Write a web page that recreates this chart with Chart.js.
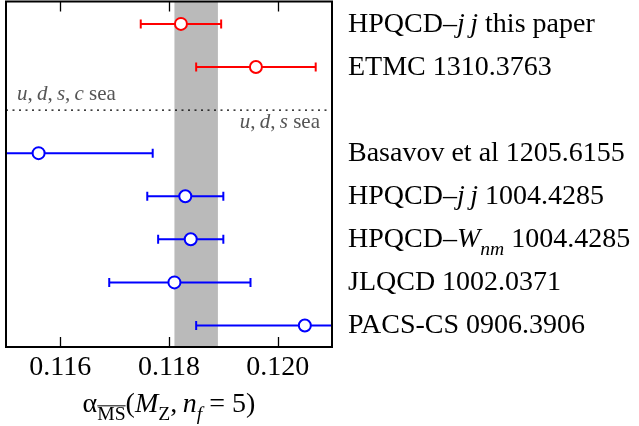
<!DOCTYPE html>
<html>
<head>
<meta charset="utf-8">
<script src="https://cdn.jsdelivr.net/npm/chart.js@4.4.1/dist/chart.umd.min.js"></script>
<style>
  html, body { margin: 0; padding: 0; background: #fff; }
  canvas { display: block; }
</style>
</head>
<body>
<canvas id="alphaChart" width="639" height="426"></canvas>
<script>
// results, top to bottom; *x* = italic, _{..} = subscript
var names = [
  'HPQCD\u2013*j\u2009j* this paper',
  'ETMC 1310.3763',
  'Basavov et al 1205.6155',
  'HPQCD\u2013*j\u2009j* 1004.4285',
  'HPQCD\u2013*W*_{*nm*} 1004.4285',
  'JLQCD 1002.0371',
  'PACS-CS 0906.3906'
];
var rows = [0, 1, 3, 4, 5, 6, 7];
var alphaS = [0.11822, 0.1196, 0.1156, 0.1183, 0.1184, 0.1181, 0.1205];
var errMinus = [0.00074, 0.0011, 0.0021, 0.0007, 0.0006, 0.0012, 0.0020];
var errPlus = [0.00074, 0.0011, 0.0021, 0.0007, 0.0006, 0.0014, 0.0010];
var nf4 = [true, true, false, false, false, false, false]; // u,d,s,c sea
var worldAvg = [0.1181, 0.1189];
var tickVals = [0.116, 0.118, 0.120];
var sepRow = 2;

var SERIF = '"Liberation Serif", "Times New Roman", serif';
var RED = '#ff0000';
var BLUE = '#0000ff';

function parseRich(s) {
  var re = /_\{([*~]?)([^}*]+)\*?\}|\*([^*]+)\*|([^*_]+)/g;
  var out = [];
  var m;
  while ((m = re.exec(s)) !== null) {
    if (m[2] !== undefined) out.push({ t: m[2], it: m[1] === '*', over: m[1] === '~', sub: true });
    else if (m[3] !== undefined) out.push({ t: m[3], it: true });
    else out.push({ t: m[4] });
  }
  return out;
}

function drawRich(ctx, s, x, y, size, align, color) {
  var segs = parseRich(s);
  var total = 0;
  segs.forEach(function (g) {
    g.font = (g.it ? 'italic ' : '') + (g.sub ? size * 0.7 : size) + 'px ' + SERIF;
    ctx.font = g.font;
    g.w = ctx.measureText(g.t).width;
    total += g.w;
  });
  var cx = align === 'center' ? x - total / 2 : align === 'right' ? x - total : x;
  ctx.save();
  ctx.fillStyle = color;
  ctx.textBaseline = 'alphabetic';
  ctx.textAlign = 'left';
  segs.forEach(function (g) {
    ctx.font = g.font;
    var dy = g.sub ? size * 0.28 : 0;
    ctx.fillText(g.t, cx, y + dy);
    if (g.over) {
      ctx.strokeStyle = color;
      ctx.lineWidth = 1;
      ctx.beginPath();
      ctx.moveTo(cx, y + dy - size * 0.5);
      ctx.lineTo(cx + g.w, y + dy - size * 0.5);
      ctx.stroke();
    }
    cx += g.w;
  });
  ctx.restore();
}

var decor = {
  id: 'decor',
  beforeDatasetsDraw: function (chart) {
    var ctx = chart.ctx, a = chart.chartArea;
    var xs = chart.scales.x, ys = chart.scales.y;
    ctx.save();
    ctx.beginPath();
    ctx.rect(a.left, a.top, a.right - a.left, a.bottom - a.top);
    ctx.clip();

    // world average band
    var b0 = xs.getPixelForValue(worldAvg[0]);
    var b1 = xs.getPixelForValue(worldAvg[1]);
    ctx.fillStyle = '#bababa';
    ctx.fillRect(b0, a.top, b1 - b0, a.bottom - a.top);

    // error bars with caps
    ctx.lineWidth = 2;
    alphaS.forEach(function (v, i) {
      var y = ys.getPixelForValue(rows[i]);
      var lo = xs.getPixelForValue(v - errMinus[i]);
      var hi = xs.getPixelForValue(v + errPlus[i]);
      ctx.strokeStyle = nf4[i] ? RED : BLUE;
      ctx.beginPath();
      ctx.moveTo(lo, y); ctx.lineTo(hi, y);
      ctx.moveTo(lo, y - 4.5); ctx.lineTo(lo, y + 4.5);
      ctx.moveTo(hi, y - 4.5); ctx.lineTo(hi, y + 4.5);
      ctx.stroke();
    });

    // sea content separator
    var sy = ys.getPixelForValue(sepRow);
    ctx.strokeStyle = '#000';
    ctx.lineWidth = 1.2;
    ctx.setLineDash([2, 4.5]);
    ctx.beginPath();
    ctx.moveTo(a.left, sy); ctx.lineTo(a.right, sy);
    ctx.stroke();
    ctx.setLineDash([]);
    ctx.restore();

    drawRich(ctx, '*u*,\u2009*d*,\u2009*s*,\u2009*c* sea', a.left + 11, sy - 10, 21, 'left', '#555555');
    drawRich(ctx, '*u*,\u2009*d*,\u2009*s* sea', a.right - 12, sy + 18, 21, 'right', '#555555');
  },
  afterDraw: function (chart) {
    var ctx = chart.ctx, a = chart.chartArea;
    var xs = chart.scales.x, ys = chart.scales.y;
    ctx.save();
    // inward ticks, top and bottom
    ctx.strokeStyle = '#000';
    ctx.lineWidth = 1.3;
    ctx.beginPath();
    tickVals.forEach(function (t) {
      var px = Math.round(xs.getPixelForValue(t)) + 0.5;
      ctx.moveTo(px, a.top); ctx.lineTo(px, a.top + 10);
      ctx.moveTo(px, a.bottom); ctx.lineTo(px, a.bottom - 10);
    });
    ctx.stroke();
    // frame
    ctx.lineWidth = 2;
    ctx.strokeRect(a.left, a.top, a.right - a.left, a.bottom - a.top);
    ctx.restore();

    // row labels
    names.forEach(function (n, i) {
      drawRich(ctx, n, a.right + 16, ys.getPixelForValue(rows[i]) + 8, 28, 'left', '#000');
    });

    // axis title
    drawRich(ctx, '\u03b1_{~MS}(*M*_{Z},\u2009*n*_{*f*}\u2005=\u20055)', (a.left + a.right) / 2, 412, 28, 'center', '#000');
  }
};

var ctx = document.getElementById('alphaChart');
var alphaChart = new Chart(ctx, {
  type: 'scatter',
  data: {
    datasets: [{
      data: alphaS.map(function (v, i) { return { x: v, y: rows[i] }; }),
      pointStyle: 'circle',
      pointRadius: 6,
      pointHoverRadius: 6,
      pointBorderWidth: 2,
      pointBackgroundColor: '#ffffff',
      pointBorderColor: nf4.map(function (c) { return c ? RED : BLUE; })
    }]
  },
  options: {
    responsive: false,
    animation: false,
    devicePixelRatio: 1,
    layout: { autoPadding: false, padding: { left: 6, right: 307, top: 1.5, bottom: 0 } },
    plugins: { legend: { display: false }, tooltip: { enabled: false } },
    scales: {
      x: {
        type: 'linear',
        min: 0.115,
        max: 0.121,
        grid: { display: false, drawTicks: false },
        border: { display: false },
        afterBuildTicks: function (s) {
          s.ticks = tickVals.map(function (v) { return { value: v }; });
        },
        afterFit: function (s) { s.height = 79; },
        ticks: {
          color: '#000',
          padding: 4,
          maxRotation: 0,
          autoSkip: false,
          font: { family: SERIF, size: 28 },
          callback: function (v) { return Number(v).toFixed(3); }
        }
      },
      y: {
        type: 'linear',
        min: -0.52,
        max: 7.5,
        reverse: true,
        display: false
      }
    }
  },
  plugins: [decor]
});
</script>
</body>
</html>
